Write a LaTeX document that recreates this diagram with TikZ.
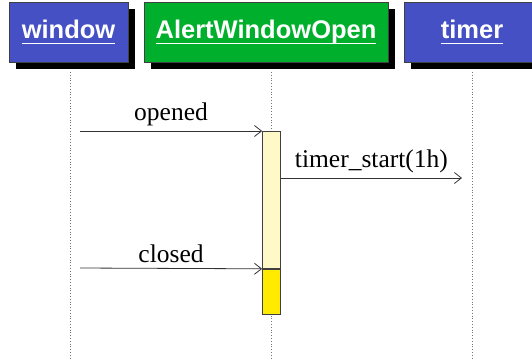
\documentclass[tikz,border=0pt]{standalone}
\usepackage{fontspec}
\setmainfont{Liberation Serif}
\setsansfont{Liberation Sans}
\usetikzlibrary{positioning,shadows,arrows.meta}

\definecolor{headblue}{RGB}{68,80,196}
\definecolor{headgreen}{RGB}{0,176,44}
\definecolor{actpale}{RGB}{255,249,200}
\definecolor{actyellow}{RGB}{255,234,0}

\newcommand{\headul}[1]{\underline{\raisebox{0pt}[\height][3pt]{#1}}}

\begin{document}
\begin{tikzpicture}[x=1pt,y=1pt,node distance=201pt,on grid,
  head/.style={draw=black!75,line width=0.8pt,minimum height=60pt,inner sep=0pt,
    text=white,font=\fontsize{25.5}{30}\selectfont\sffamily\bfseries,
    drop shadow={shadow xshift=7pt,shadow yshift=-7pt,fill=black,opacity=1}},
  life/.style={dotted,black!55,line width=0.8pt},
  actbox/.style={draw=black!75,line width=0.8pt,minimum width=18pt,inner sep=0pt},
  msg/.style={-{Straight Barb[length=7pt,width=11pt]},black!80,line width=0.8pt},
  lbl/.style={above,text=black,font=\fontsize{25.5}{30}\selectfont,inner sep=5pt}]
\useasboundingbox (0,0) rectangle (532,-360);

% heads
\node[head,fill=headblue,minimum width=119pt] (window) at (68.5,-32) {\headul{window}};
\node[head,fill=headgreen,minimum width=244pt] (alert) at (266,-32) {\headul{AlertWindowOpen}};
\node[head,fill=headblue,minimum width=136pt] (timer) at (472,-32) {\headul{timer}};

% lifelines
\coordinate (window-top) at (70.5,-72);
\coordinate[right=of window-top] (alert-top);
\coordinate[right=of alert-top] (timer-top);
\draw[life] (window-top) -- (window-top |- 0,-360);
\draw[life] (alert-top) -- (alert-top |- 0,-360);
\draw[life] (timer-top) -- (timer-top |- 0,-360);

% activation
\node[actbox,fill=actpale,minimum height=137pt,anchor=north] (act) at (alert-top |- 0,-131) {};
\node[actbox,fill=actyellow,minimum height=45pt,anchor=north] (actend) at (act.south) {};

% messages
\coordinate (opened-from) at (80,-131);
\coordinate (closed-from) at (80,-268);
\coordinate (start-to) at (462,-178);
\draw[msg] (opened-from) -- node[lbl] {opened} (act.north west);
\draw[msg] (act.east |- start-to) -- node[lbl] {timer\_start(1h)} (start-to);
\draw[msg] (closed-from) -- node[lbl] {closed} (actend.north west);
\end{tikzpicture}
\end{document}
